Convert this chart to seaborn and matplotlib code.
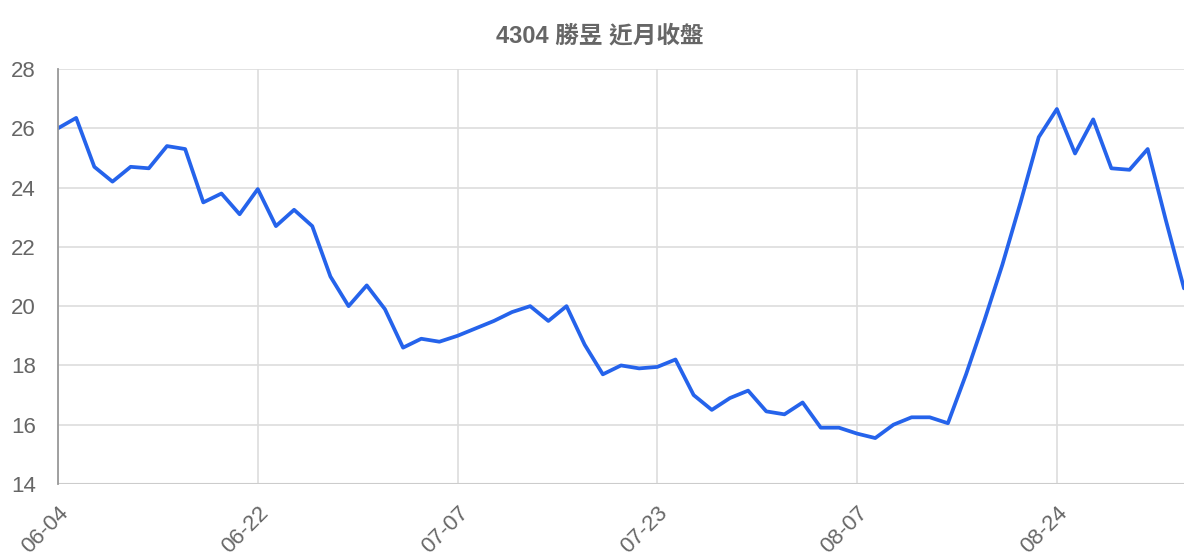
import matplotlib
matplotlib.use("Agg")
import matplotlib.pyplot as plt
import seaborn as sns
import pandas as pd

# data (63 trading days, 06-04 .. end of Aug)
close = [
    26.0, 26.35, 24.7, 24.2, 24.7, 24.65, 25.4, 25.3, 23.5, 23.8, 23.1,
    23.95, 22.7, 23.25, 22.7, 21.0, 20.0, 20.7, 19.9, 18.6, 18.9, 18.8,
    19.0, 19.25, 19.5, 19.8, 20.0, 19.5, 20.0, 18.7, 17.7, 18.0, 17.9,
    17.95, 18.2, 17.0, 16.5, 16.9, 17.15, 16.45, 16.35, 16.75, 15.9, 15.9,
    15.7, 15.55, 16.0, 16.25, 16.25, 16.05, 17.7, 19.5, 21.4, 23.5, 25.7,
    26.65, 25.15, 26.3, 24.65, 24.6, 25.3, 22.9, 20.6,
]
tick_labels = ["06-04", "06-22", "07-07", "07-23", "08-07", "08-24"]
title = "4304 勝昱 近月收盤"

df = pd.DataFrame({"idx": range(len(close)), "close": close})

sns.set_style("whitegrid")
plt.rcParams["font.family"] = ["Liberation Sans", "Noto Sans CJK TC", "DejaVu Sans"]

fig = plt.figure(figsize=(12, 5.6), dpi=100)
ax = fig.add_axes([58 / 1200, 1 - 484 / 560, (1184 - 58) / 1200, (484 - 69) / 560])

sns.lineplot(data=df, x="idx", y="close", ax=ax, color="#2563eb", linewidth=2.7)

ax.set_xlim(0, len(close) - 1)
ax.set_ylim(14, 28)
ax.set_yticks(range(14, 29, 2))
ax.set_xticks(range(0, len(close), 11))
ax.set_xticklabels(tick_labels, rotation=45, ha="right", rotation_mode="anchor")
ax.set_xlabel("")
ax.set_ylabel("")

ax.grid(True, color="#dddddd", linewidth=1.2)
for s in ["top", "right", "bottom"]:
    ax.spines[s].set_visible(False)
ax.spines["left"].set_color("#999999")
ax.spines["left"].set_linewidth(1.3)
ax.axhline(14, color="#cccccc", linewidth=1.5, zorder=1)

ax.tick_params(axis="y", length=14, color="#dddddd", width=1.2, labelsize=16,
               labelcolor="#666666", pad=2)
ax.tick_params(axis="x", length=13, color="#dddddd", width=1.2, labelsize=16,
               labelcolor="#666666", pad=0)

fig.suptitle(title, x=0.5, y=0.936, va="center", fontsize=17, fontweight="bold",
             color="#666666")

fig.savefig("out.png", dpi=100, facecolor="white")
